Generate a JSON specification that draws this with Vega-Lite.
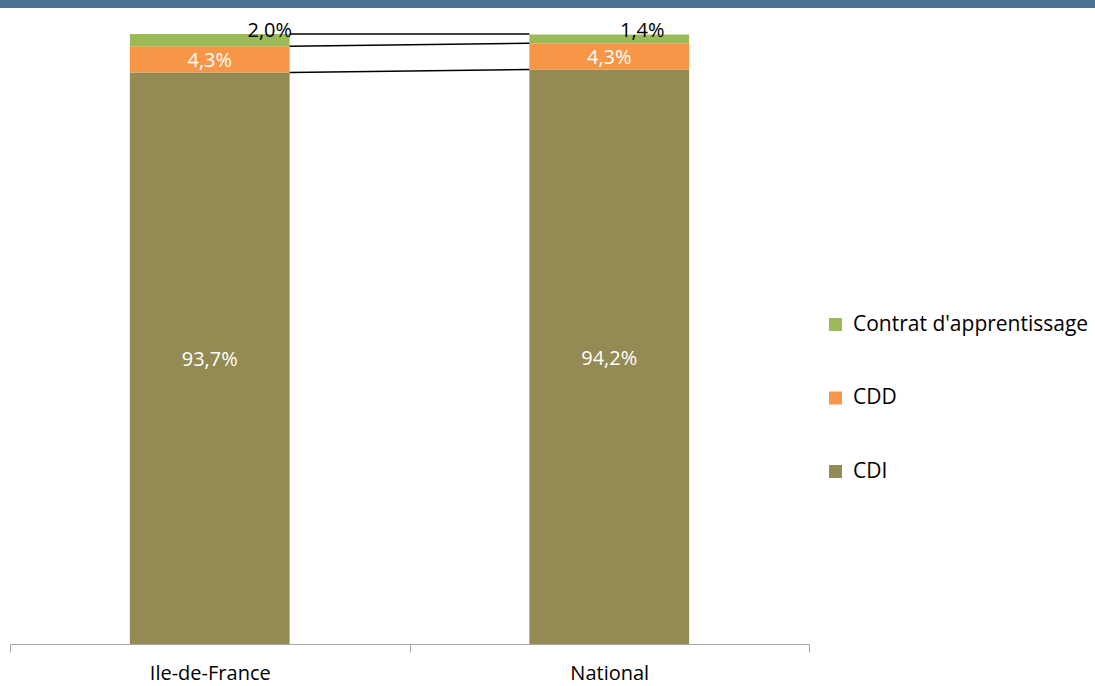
{
  "$schema": "https://vega.github.io/schema/vega-lite/v6.json",
  "width": 1095,
  "height": 610,
  "autosize": "none",
  "padding": {"left": 0, "right": 0, "top": 34, "bottom": 42},
  "background": "white",
  "config": {
    "view": {"stroke": null},
    "font": "Open Sans",
    "axisX": {
      "labelAngle": 0, "tickBand": "extent",
      "domainColor": "#A6A6A6", "tickColor": "#A6A6A6", "tickSize": 8,
      "labelFontSize": 20, "labelColor": "#000000", "labelPadding": 11,
      "labelFont": "Open Sans"
    }
  },
  "datasets": {
    "shares": [
      {"region": "Ile-de-France", "type": "CDI", "o": 1, "value": 93.7, "label": "93,7%"},
      {"region": "Ile-de-France", "type": "CDD", "o": 2, "value": 4.3, "label": "4,3%"},
      {"region": "Ile-de-France", "type": "Contrat d'apprentissage", "o": 3, "value": 2.0, "label": "2,0%"},
      {"region": "National", "type": "CDI", "o": 1, "value": 94.2, "label": "94,2%"},
      {"region": "National", "type": "CDD", "o": 2, "value": 4.3, "label": "4,3%"},
      {"region": "National", "type": "Contrat d'apprentissage", "o": 3, "value": 1.4, "label": "1,4%"}
    ],
    "links": [
      {"from": "Ile-de-France", "to": "National", "left": 100, "right": 100},
      {"from": "Ile-de-France", "to": "National", "left": 98.0, "right": 98.5},
      {"from": "Ile-de-France", "to": "National", "left": 93.7, "right": 94.2}
    ]
  },
  "layer": [
    {
      "data": {"values": [{"band": "header"}]},
      "mark": {"type": "rect", "color": "#497395"},
      "encoding": {
        "y": {"datum": 105.6, "type": "quantitative", "scale": {"domain": [0, 100]}, "axis": null},
        "y2": {"datum": 104.25}
      }
    },
    {
      "data": {"name": "shares"},
      "mark": {"type": "bar", "width": {"band": 0.4}},
      "encoding": {
        "x": {
          "field": "region", "type": "nominal", "sort": null, "title": null,
          "scale": {"type": "band", "range": [10, 809], "paddingInner": 0, "paddingOuter": 0}
        },
        "y": {"field": "value", "type": "quantitative", "stack": "zero", "scale": {"domain": [0, 100]}, "axis": null},
        "order": {"field": "o", "type": "quantitative"},
        "color": {
          "field": "type", "type": "nominal",
          "scale": {"domain": ["Contrat d'apprentissage", "CDD", "CDI"], "range": ["#9BBB59", "#F79646", "#948A54"]},
          "legend": {
            "title": null, "orient": "none", "legendX": 825, "legendY": 280,
            "symbolType": "square", "symbolSize": 169, "symbolStrokeWidth": 0,
            "labelFontSize": 21, "labelFont": "Open Sans", "labelColor": "#000000",
            "labelLimit": 400, "labelOffset": 7, "rowPadding": 51.5, "padding": 0
          }
        }
      }
    },
    {
      "data": {"name": "links"},
      "mark": {"type": "rule", "color": "#000000", "strokeWidth": 1.5},
      "encoding": {
        "x": {"field": "from", "type": "nominal", "bandPosition": 0.7, "title": null},
        "x2": {"field": "to", "bandPosition": 0.3},
        "y": {"field": "left", "type": "quantitative", "axis": null},
        "y2": {"field": "right"}
      }
    },
    {
      "data": {"name": "shares"},
      "transform": [
        {"stack": "value", "groupby": ["region"], "sort": [{"field": "o"}], "as": ["v0", "v1"]},
        {"calculate": "(datum.v0 + datum.v1) / 2", "as": "mid"},
        {"filter": "datum.type !== \"Contrat d'apprentissage\""}
      ],
      "mark": {"type": "text", "color": "white", "fontSize": 20, "font": "Open Sans", "baseline": "middle", "dy": 2},
      "encoding": {
        "x": {"field": "region", "type": "nominal", "title": null},
        "y": {"field": "mid", "type": "quantitative", "axis": null},
        "text": {"field": "label"}
      }
    },
    {
      "data": {"name": "shares"},
      "transform": [
        {"stack": "value", "groupby": ["region"], "sort": [{"field": "o"}], "as": ["v0", "v1"]},
        {"filter": "datum.type === \"Contrat d'apprentissage\" && datum.region === 'Ile-de-France'"}
      ],
      "mark": {"type": "text", "color": "black", "fontSize": 20, "font": "Open Sans", "baseline": "alphabetic", "dx": 60, "dy": 3},
      "encoding": {
        "x": {"field": "region", "type": "nominal", "title": null},
        "y": {"field": "v1", "type": "quantitative", "axis": null},
        "text": {"field": "label"}
      }
    },
    {
      "data": {"name": "shares"},
      "transform": [
        {"stack": "value", "groupby": ["region"], "sort": [{"field": "o"}], "as": ["v0", "v1"]},
        {"filter": "datum.type === \"Contrat d'apprentissage\" && datum.region === 'National'"}
      ],
      "mark": {"type": "text", "color": "black", "fontSize": 20, "font": "Open Sans", "baseline": "alphabetic", "dx": 33, "dy": 2},
      "encoding": {
        "x": {"field": "region", "type": "nominal", "title": null},
        "y": {"field": "v1", "type": "quantitative", "axis": null},
        "text": {"field": "label"}
      }
    }
  ]
}
